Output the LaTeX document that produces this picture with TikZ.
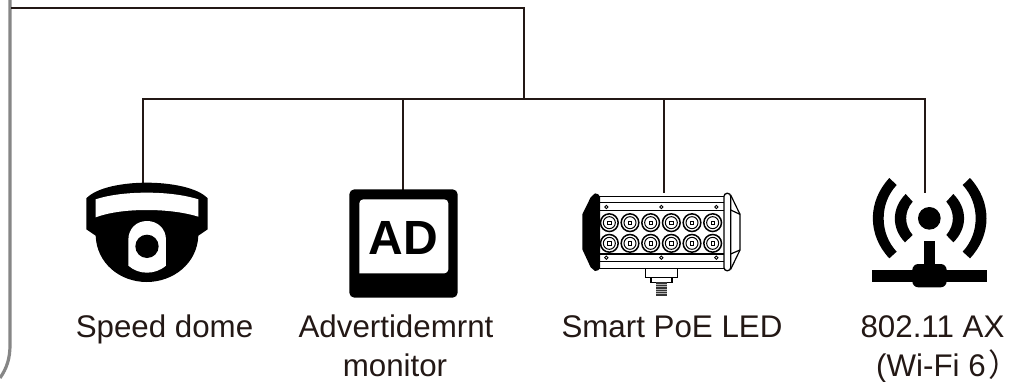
\documentclass[tikz,border=0pt]{standalone}
\usepackage{fontspec}
\setmainfont{Liberation Sans}
\newfontfamily\cjk{Noto Sans CJK SC}
\definecolor{wireColor}{HTML}{231815}
\tikzset{
  wire/.style={draw=wireColor,line width=2.4pt},
  frameline/.style={draw=gray!95,line width=3.2pt},
  lbl/.style={inner sep=0pt,font=\fontsize{31.3}{36}\selectfont,text=wireColor,anchor=base},
  icon/.style={shift={#1},scale=1/3},
  heavy/.style={fill=black,draw=none},
  blank/.style={fill=white,draw=none}
}
\begin{document}
\begin{tikzpicture}[x=1pt,y=-1pt]
\useasboundingbox (0,0) rectangle (1021,381);
\fill[white] (0,0) rectangle (1021,381);
% frame
\coordinate (frameTop) at (10,0);
\coordinate (frameEnd) at (0,378);
\draw[frameline] (frameTop) -- (10,345) .. controls (10,358) and (7,368) .. (frameEnd);
% bus
\coordinate (busStart) at (11,8);
\coordinate (busCorner) at (524,8);
\coordinate (busJoin) at (524,99);
\coordinate (busL) at (143,99);
\coordinate (busA) at (403,99);
\coordinate (busP) at (664,99);
\coordinate (busR) at (925,99);
\coordinate (topCam) at (143,184);
\coordinate (topMon) at (403,190);
\coordinate (topLed) at (664,193);
\coordinate (topWifi) at (925,193);
\draw[wire] (busStart) -- (busCorner) -- (busJoin);
\draw[wire,line cap=rect] (busL) -- (busR);
\draw[wire] (busL) -- (topCam);
\draw[wire] (busA) -- (topMon);
\draw[wire] (busP) -- (topLed);
\draw[wire] (busR) -- (topWifi);
% camera
\begin{scope}[icon={(60,170)}]
\fill[heavy] (79,85) .. controls (110,52) and (190,38) .. (260,38) .. controls (330,38) and (412,52) .. (443,85)
  -- (443,178) -- (415,197) .. controls (412,280) and (340,336) .. (260,336) .. controls (180,336) and (110,280) .. (107,197) -- (79,178) -- cycle;
\fill[blank] (107,88) .. controls (150,74) and (205,68) .. (260,68) .. controls (315,68) and (370,74) .. (415,88)
  -- (415,140) .. controls (370,126) and (315,120) .. (260,120) .. controls (205,120) and (150,126) .. (107,142) -- cycle;
\fill[blank] (205,210) .. controls (205,175) and (230,153) .. (261,153) .. controls (292,153) and (318,175) .. (318,210)
  -- (318,287) .. controls (300,302) and (280,308) .. (261,308) .. controls (242,308) and (222,302) .. (205,287) -- cycle;
\fill[heavy] (261,229) circle (35);
\end{scope}
% monitor
\begin{scope}[icon={(330,170)}]
\fill[heavy,rounded corners=5pt] (58,58) rectangle (383,383);
\fill[blank,rounded corners=4pt] (88,310) -- (88,88) -- (355,88) -- (355,310) [sharp corners] -- cycle;
\node[inner sep=0pt,font=\fontsize{48}{48}\bfseries\selectfont] (adText) at (220,203) {AD};
\end{scope}
% LED bar
\begin{scope}[icon={(570,180)}]
\fill[heavy] (75,40) .. controls (82,40) and (88,44) .. (90,50) -- (90,265) .. controls (88,270) and (82,273) .. (75,273) -- (62,262) -- (37,208) -- (37,103) -- (62,52) -- cycle;
\foreach \yy in {50,67,92,222,245,265} \draw[black,line width=1.3pt] (88,\yy) -- (462,\yy);
\draw[black,line width=1.3pt,rounded corners=3pt,fill=white] (462,40) rectangle (482,272);
\draw[black,line width=1.2pt] (482,45) -- (510,103) -- (510,210) -- (482,268);
\draw[black,line width=1.2pt] (482,90) -- (510,103) (482,222) -- (510,210);
\foreach \xx in {109,274,439} \foreach \yy in {81,233} \draw[black,line width=.9pt] (\xx,\yy) circle (5);
\foreach \xx in {118,180,242,304,366,428} \foreach \yy in {128,190} {
  \draw[black,line width=1.5pt] (\xx,\yy) circle (26.5);
  \draw[black,line width=1pt] (\xx,\yy) circle (18);
  \draw[black,line width=.9pt] (\xx-5,\yy-5) rectangle (\xx+5,\yy+5);
}
\draw[black,line width=1.1pt] (227,265) -- (227,293) -- (322,293) -- (322,265);
\draw[black,line width=1.1pt] (243,293) -- (243,307) -- (306,307) -- (306,293);
\fill[black!80] (258,307) rectangle (292,348);
\foreach \yy in {312,319,326,333,340} \fill[white!70!black] (258,\yy) rectangle (292,\yy+2.2);
\end{scope}
% wifi
\begin{scope}[icon={(850,170)}]
\fill[heavy] (238,145) circle (34);
\fill[heavy] (118,24) -- (140,45) .. controls (88,100) and (88,190) .. (140,245) -- (118,265) .. controls (52,195) and (52,95) .. (118,24) -- cycle;
\fill[heavy] (360,24) -- (338,45) .. controls (390,100) and (390,190) .. (338,245) -- (360,265) .. controls (426,195) and (426,95) .. (360,24) -- cycle;
\fill[heavy] (167,72) -- (188,95) .. controls (162,125) and (162,165) .. (188,195) -- (165,217) .. controls (124,175) and (124,115) .. (167,72) -- cycle;
\fill[heavy] (310,72) -- (289,95) .. controls (315,125) and (315,165) .. (289,195) -- (310,217) .. controls (353,175) and (353,115) .. (310,72) -- cycle;
\fill[heavy] (222,213) rectangle (255,290);
\fill[heavy] (66,300) rectangle (411,335);
\fill[heavy,rounded corners=6pt] (187,282) rectangle (290,352);
\end{scope}
% labels
\node[lbl] (lblCam) at (164.5,337) {Speed dome};
\node[lbl] (lblMon1) at (396,337) {Advertidemrnt};
\node[lbl] (lblMon2) at (395,376) {monitor};
\node[lbl] (lblLed) at (672,337) {Smart PoE LED};
\node[lbl] (lblWifi1) at (932.5,337) {802.11 AX};
\node[lbl,anchor=base west] (lblWifi2) at (876,376) {(Wi-Fi 6\kern3pt{\cjk ）}};
\end{tikzpicture}
\end{document}
